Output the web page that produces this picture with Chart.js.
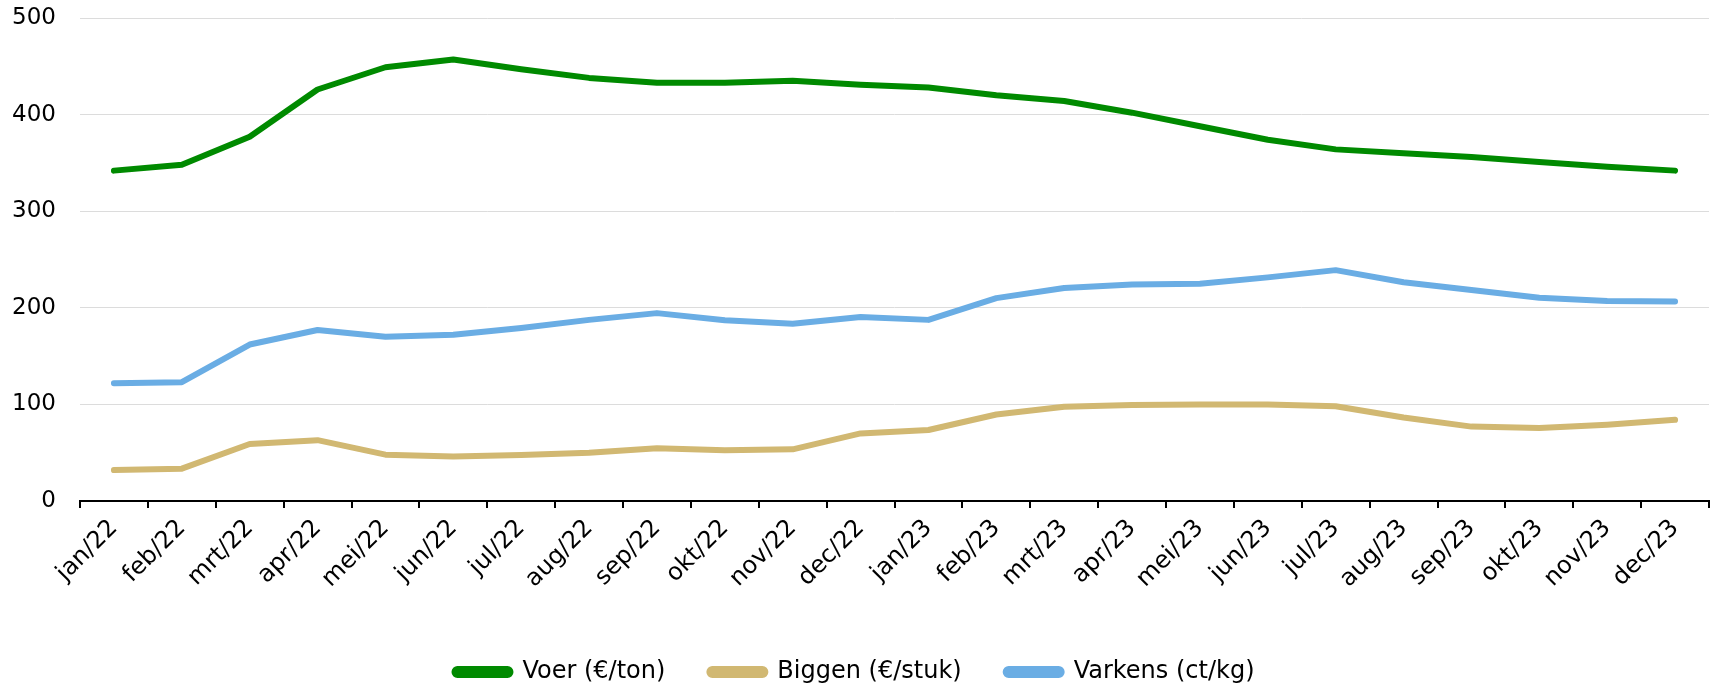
<!DOCTYPE html>
<html>
<head>
<meta charset="utf-8">
<script src="https://cdn.jsdelivr.net/npm/chart.js@4/dist/chart.umd.min.js"></script>
<style>
  html, body { margin: 0; padding: 0; background: #ffffff; }
  #wrap { width: 1718px; height: 686px; position: relative; }
</style>
</head>
<body>
<div id="wrap"><canvas id="c" width="1718" height="686"></canvas></div>
<script>
const categories = ["jan/22","feb/22","mrt/22","apr/22","mei/22","jun/22","jul/22","aug/22","sep/22","okt/22","nov/22","dec/22",
                    "jan/23","feb/23","mrt/23","apr/23","mei/23","jun/23","jul/23","aug/23","sep/23","okt/23","nov/23","dec/23"];
const voer    = [342, 348, 377, 426, 449, 457, 447, 438, 433, 433, 435, 431, 428, 420, 414, 402, 388, 374, 364, 360, 356, 351, 346, 342];
const biggen  = [32, 33.5, 59, 63, 48, 46, 47.5, 50, 54.5, 52.5, 53.5, 70, 73.5, 89.5, 97.5, 99.5, 100, 100, 98, 86.5, 77, 75.5, 79, 84];
const varkens = [122, 123, 162, 177, 170, 172, 179, 187.5, 194.5, 187, 183.5, 190.5, 187.5, 210, 220.5, 224, 225, 231.5, 239, 226.5, 218.5, 210.5, 207, 206.5];
const yTicks  = [0, 100, 200, 300, 400, 500];
const seriesNames = ["Voer (\u20ac/ton)", "Biggen (\u20ac/stuk)", "Varkens (ct/kg)"];
const seriesColors = ["#008a00", "#d1b872", "#6aade4"];

const FONT = "'DejaVu Sans', Verdana, sans-serif";

function ds(label, data, color) {
  return {
    label, data,
    borderColor: color, backgroundColor: color,
    borderWidth: 6, pointRadius: 0, pointHoverRadius: 0,
    borderCapStyle: 'round', borderJoinStyle: 'round',
    tension: 0, fill: false
  };
}

new Chart(document.getElementById('c'), {
  type: 'line',
  data: {
    labels: categories,
    datasets: [
      ds(seriesNames[0], voer, seriesColors[0]),
      ds(seriesNames[1], biggen, seriesColors[1]),
      ds(seriesNames[2], varkens, seriesColors[2])
    ]
  },
  options: {
    responsive: false,
    animation: false,
    layout: { padding: { top: 18, right: 9, bottom: -8, left: 0 } },
    plugins: {
      tooltip: { enabled: false },
      legend: {
        position: 'bottom',
        labels: {
          font: { family: FONT, size: 24 },
          color: '#000',
          boxWidth: 56, boxHeight: 6,
          useBorderRadius: true, borderRadius: 3,
          padding: 44
        }
      }
    },
    scales: {
      x: {
        type: 'category',
        offset: true,
        grid: { display: true, offset: true, drawOnChartArea: false, drawTicks: true, tickLength: 7, color: '#000', lineWidth: 2 },
        border: { display: true, color: '#000', width: 2 },
        ticks: { font: { family: FONT, size: 24 }, color: '#000', minRotation: 45, maxRotation: 45, autoSkip: false, padding: 6 },
        afterFit: (s) => { s.height = 115; }
      },
      y: {
        min: 0, max: 500,
        afterBuildTicks: (s) => { s.ticks = yTicks.map(v => ({ value: v })); },
        grid: { color: '#dcdcdc', lineWidth: 1, drawTicks: true, tickLength: 21, tickColor: 'rgba(0,0,0,0)' },
        border: { display: false },
        ticks: { font: { family: FONT, size: 23 }, color: '#000', padding: 3 },
        afterFit: (s) => { s.width = 80; }
      }
    }
  }
});
</script>
</body>
</html>
